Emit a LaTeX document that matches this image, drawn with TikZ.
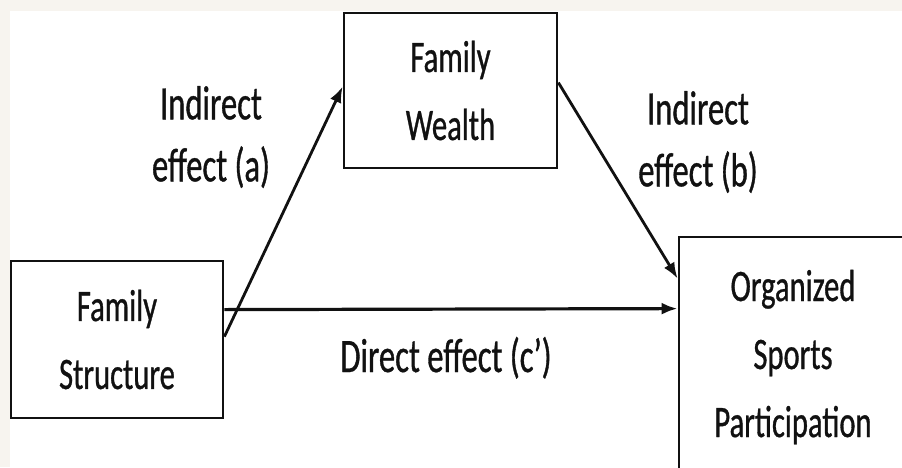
\documentclass[tikz,border=0pt]{standalone}
\usepackage{fontspec}
\setmainfont{Carlito}[FakeStretch=0.68,FakeBold=0.7]
\usetikzlibrary{arrows.meta,calc}
\definecolor{bgbeige}{HTML}{F7F4EF}
\definecolor{ink}{HTML}{111111}
\tikzset{
  boxnode/.style={draw=ink,line width=2.8pt,fill=white,align=center,inner sep=0pt,
    font=\fontsize{45}{68}\selectfont,text=ink},
  labelnode/.style={align=center,inner sep=0pt,font=\fontsize{48}{62}\selectfont,text=ink},
  effarrow/.style={draw=ink,line width=2.8pt,-{Latex[length=16pt,width=12pt]}},
}
\begin{document}
\begin{tikzpicture}[x=1pt,y=-1pt]
\useasboundingbox (0,0) rectangle (902,467);
\fill[bgbeige] (0,0) rectangle (902,467);
\fill[white] (10,11) rectangle (902,467);
\begin{scope}
\clip (0,0) rectangle (902,467);
\node[boxnode,minimum width=212pt,minimum height=157pt] (fs) at (117,339.5) {Family\\Structure};
\node[boxnode,minimum width=213pt,minimum height=155pt] (fw) at (450.5,90.5) {Family\\Wealth};
\node[boxnode,minimum width=228pt,minimum height=240pt] (osp) at (793,357) {Organized\\Sports\\Participation};
\end{scope}
\node[labelnode] (la) at (211,137) {Indirect\\effect (a)};
\node[labelnode] (lb) at (698,142) {Indirect\\effect (b)};
\node[labelnode,anchor=base] (lc) at (446,372) {Direct effect (c’)};
\draw[effarrow] ($(fs.north east)+(0,77)$) -- ($(fw.north west)+(0,75)$);
\draw[effarrow] ($(fw.north east)+(0,71)$) -- ($(osp.north west)+(0,43)$);
\draw[effarrow,line width=3.2pt] ($(fs.north east)+(0,50)$) -- ($(osp.north west)+(0,73)$);
\end{tikzpicture}
\end{document}
